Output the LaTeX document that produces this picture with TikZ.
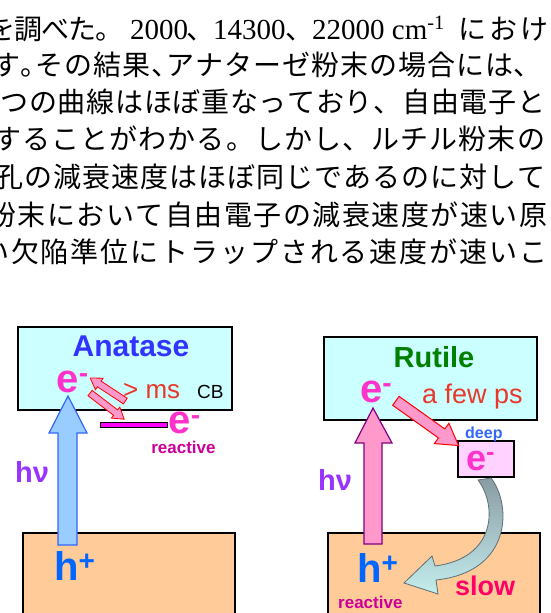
\documentclass[tikz,border=0pt]{standalone}
\usepackage{fontspec}
\setmainfont{Liberation Serif}
\newfontfamily\jfont{Noto Sans CJK JP}
\newfontfamily\afont{Liberation Sans}
\usetikzlibrary{shapes.arrows}
\definecolor{cbfill}{HTML}{CCFFFF}
\definecolor{vbfill}{HTML}{FFCC99}
\definecolor{deepfill}{HTML}{FFD2FF}
\definecolor{anablue}{HTML}{3333FF}
\definecolor{rgreen}{HTML}{008000}
\definecolor{epink}{HTML}{FF33CC}
\definecolor{msred}{HTML}{E8382A}
\definecolor{reactc}{HTML}{CC0099}
\definecolor{hvpurple}{HTML}{9933FF}
\definecolor{hblue}{HTML}{0066FF}
\definecolor{deepblue}{HTML}{3366FF}
\definecolor{slowc}{HTML}{FF0066}
\definecolor{arrblue}{HTML}{3366FF}
\definecolor{arrbluefill}{HTML}{99CCFF}
\definecolor{arrpink}{HTML}{FF99CC}
\definecolor{rpurple}{HTML}{800080}
\definecolor{lvlmag}{HTML}{FF00FF}
\definecolor{curveline}{HTML}{5E6E74}
\definecolor{curvetop}{HTML}{8A9BA3}
\definecolor{curvebot}{HTML}{C4EEEE}
\newlength\jp
\ExplSyntaxOn
\NewDocumentCommand\jsp{m}{\tl_map_inline:nn{#1}{\token_if_cs:NTF ##1 {##1}{\makebox[\jp]{##1}}}}
\ExplSyntaxOff
\newcommand\jha{\makebox[0.5\jp][l]{。}}
\newcommand\jhb{\makebox[0.5\jp][l]{、}}
\newcommand\fsz[1]{\fontsize{#1}{#1}\selectfont}
\tikzset{
  jl/.style={anchor=base west, inner sep=0pt, font=\jfont\fsz{28}},
  lat/.style={anchor=base west, inner sep=0pt, font=\fsz{29}},
  band/.style={draw=black, line width=2.5pt, inner sep=0pt},
  lb/.style={anchor=base west, inner sep=0pt, font=\afont\bfseries},
  bigarrow/.style={single arrow, inner xsep=0pt, minimum width=0pt},
}
\newcommand\jrow[5]{\node[jl] (#1) at (#2,#3) {\setlength\jp{#4pt}\jsp{#5}};}
\begin{document}
\begin{tikzpicture}[x=1pt,y=-1pt]
\useasboundingbox (0,0) rectangle (551,613);
\clip (0,0) rectangle (551,613);
\fill[white] (0,0) rectangle (551,613);
% ---------- text ----------
\node[jl] (l1a) at (-12,39) {\setlength\jp{27pt}\jsp{を調べた。}};
\node[lat] (l1b) at (130,39) {2000};
\node[jl] (l1c) at (186,39) {、};
\node[lat] (l1d) at (213,39) {14300};
\node[jl] (l1e) at (285,39) {、};
\node[lat] (l1f) at (312,39) {22000 cm\textsuperscript{-1}};
\node[jl] (l1g) at (457,39) {\setlength\jp{31pt}\jsp{におけ}};
\jrow{l2}{-8.5}{75}{29}{す\jha その結果\jhb アナターゼ粉末の場合には\jhb}
\jrow{l3}{0}{112}{28.7}{つの曲線はほぼ重なっており、自由電子と}
\jrow{l4}{-7.5}{149}{29.1}{することがわかる。しかし、ルチル粉末の}
\jrow{l5}{-5.5}{187}{29}{孔の減衰速度はほぼ同じであるのに対して}
\jrow{l6}{-12.5}{225}{29.5}{粉末において自由電子の減衰速度が速い原}
\jrow{l7}{-20}{262}{29.9}{い欠陥準位にトラップされる速度が速いこ}
% ---------- Anatase ----------
\node[band, fill=cbfill, minimum width=214pt, minimum height=83pt] (cbA) at (125,368.5) {};
\node[band, fill=vbfill, minimum width=212pt, minimum height=95pt] (vbA) at (129,580.5) {};
\node[draw=black, line width=0.8pt, fill=lvlmag, minimum width=67pt, minimum height=5pt, inner sep=0pt] (lvl) at (133.5,424.5) {};
\draw[arrblue, fill=arrbluefill, line width=1.2pt, line join=miter]
  (58,545) -- (58,433) -- (49,433) -- (68,396) -- (87,433) -- (77,433) -- (77,545) -- cycle;
\node[bigarrow, draw=red, fill=arrpink, line width=0.8pt, minimum height=42pt, inner ysep=3pt, single arrow head extend=3.5pt, single arrow tip angle=65, rotate=146.7] (arA1) at (110,391) {};
\node[bigarrow, draw=red, fill=arrpink, line width=0.8pt, minimum height=43pt, inner ysep=3pt, single arrow head extend=3.5pt, single arrow tip angle=65, rotate=-37.4] (arA2) at (105,404.5) {};
\node[inner sep=0pt, font=\afont\bfseries\fsz{30}, text=anablue] (tA) at (131,346) {Anatase};
\node[lb, font=\afont\bfseries\fsz{40}, text=epink] (eA) at (56.5,392) {e\textsuperscript{-}};
\node[anchor=base west, inner sep=0pt, font=\afont\fsz{26}, text=msred] (msA) at (123,398) {> ms};
\node[anchor=base west, inner sep=0pt, font=\afont\fsz{19}] (cbAl) at (197,398) {CB};
\node[lb, font=\afont\bfseries\fsz{40}, text=epink] (eA2) at (168.5,433.5) {e\textsuperscript{-}};
\node[inner sep=0pt, font=\afont\bfseries\fsz{17}, text=reactc] (rA) at (183.5,447) {reactive};
\node[lb, font=\afont\bfseries\fsz{29}, text=hvpurple] (hvA) at (15,482) {hν};
\node[lb, font=\afont\bfseries\fsz{40}, text=hblue] (hpA) at (54,580) {h\textsuperscript{+}};
% ---------- Rutile ----------
\node[band, fill=cbfill, minimum width=213pt, minimum height=83pt] (cbR) at (430.5,378.5) {};
\node[band, fill=vbfill, minimum width=212pt, minimum height=95pt] (vbR) at (434,580.5) {};
\node[draw=black, line width=1.5pt, fill=deepfill, minimum width=56pt, minimum height=36pt, inner sep=0pt] (deep) at (486,459) {};
\draw[rpurple, fill=arrpink, line width=1.2pt, line join=miter]
  (364,544) -- (364,443) -- (355,443) -- (373,408) -- (392,443) -- (382,443) -- (382,544) -- cycle;
\node[bigarrow, draw=red, fill=arrpink, line width=1pt, minimum height=77pt, inner ysep=5pt, single arrow head extend=7pt, single arrow tip angle=62, rotate=-35.5] (arR) at (423.5,420.5) {};
\path[draw=curveline, line width=0.8pt, top color=curvetop, bottom color=curvebot]
  (478,480) .. controls (497,505) and (497,558) .. (435,566) -- (432,556) -- (404,583) -- (438,594) -- (436,580)
  .. controls (512,572) and (512,505) .. (491,478) -- cycle;
\node[inner sep=0pt, font=\afont\bfseries\fsz{29}, text=rgreen] (tR) at (434,357) {Rutile};
\node[lb, font=\afont\bfseries\fsz{40}, text=epink] (eR) at (360,402) {e\textsuperscript{-}};
\node[anchor=base west, inner sep=0pt, font=\afont\fsz{27}, text=msred] (fps) at (422,403) {a few ps};
\node[lb, font=\afont\bfseries\fsz{16}, text=deepblue] (dl) at (465,438) {deep};
\node[lb, font=\afont\bfseries\fsz{36}, text=epink] (eD) at (466,470) {e\textsuperscript{-}};
\node[lb, font=\afont\bfseries\fsz{29}, text=hvpurple] (hvR) at (318,490) {hν};
\node[lb, font=\afont\bfseries\fsz{40}, text=hblue] (hpR) at (357,582) {h\textsuperscript{+}};
\node[lb, font=\afont\bfseries\fsz{17}, text=reactc] (rR) at (338,608) {reactive};
\node[lb, font=\afont\bfseries\fsz{27}, text=slowc] (slow) at (455,595) {slow};
\end{tikzpicture}
\end{document}
